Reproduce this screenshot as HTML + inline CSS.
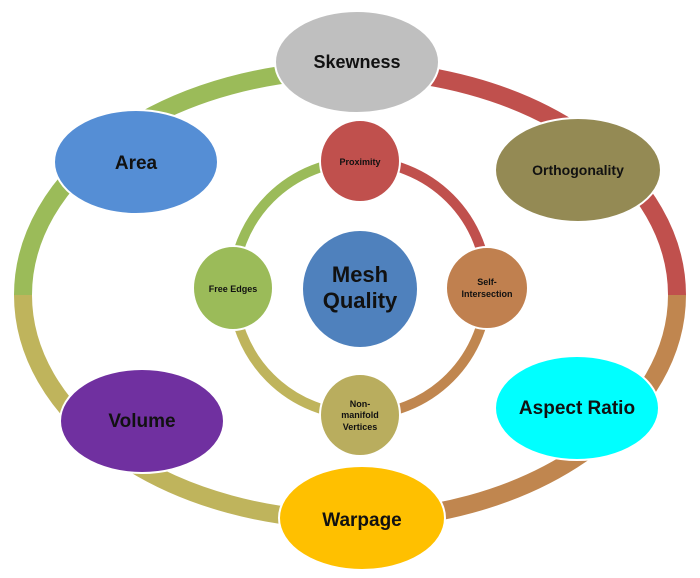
<!DOCTYPE html>
<html><head><meta charset="utf-8"><style>
html,body{margin:0;padding:0;background:#fff;}
svg{display:block;}
text{font-family:"Liberation Sans",sans-serif;font-weight:bold;fill:#111;text-anchor:middle;}
</style></head><body>
<svg width="700" height="578" viewBox="0 0 700 578" xmlns="http://www.w3.org/2000/svg">
<g fill="none" stroke-width="18">
<path d="M350 70 A327 225 0 0 0 23 295" stroke="#9bbb59"/>
<path d="M23 295 A327 225 0 0 0 350 520" stroke="#bfb45c"/>
<path d="M350 520 A327 225 0 0 0 677 295" stroke="#c0864f"/>
<path d="M677 295 A327 225 0 0 0 350 70" stroke="#c0504d"/>
</g>
<g fill="none" stroke-width="10">
<path d="M360 161 A127 127 0 0 0 233 288" stroke="#9bbb59"/>
<path d="M233 288 A127 127 0 0 0 360 415" stroke="#bfb45c"/>
<path d="M360 415 A127 127 0 0 0 487 288" stroke="#c0864f"/>
<path d="M487 288 A127 127 0 0 0 360 161" stroke="#c0504d"/>
</g>
<g stroke="#fff" stroke-width="2">
<ellipse cx="357" cy="62" rx="82" ry="51" fill="#bfbfbf"/>
<ellipse cx="136" cy="162" rx="82" ry="52" fill="#558ed5"/>
<ellipse cx="578" cy="170" rx="83" ry="52" fill="#948a54"/>
<ellipse cx="360" cy="161" rx="40" ry="41" fill="#c0504d"/>
<ellipse cx="233" cy="288" rx="40" ry="42" fill="#9bbb59"/>
<ellipse cx="360" cy="289" rx="58" ry="59" fill="#4f81bd"/>
<ellipse cx="487" cy="288" rx="41" ry="41" fill="#c0804f"/>
<ellipse cx="360" cy="415" rx="40" ry="41" fill="#b9ad5e"/>
<ellipse cx="142" cy="421" rx="82" ry="52" fill="#7030a0"/>
<ellipse cx="577" cy="408" rx="82" ry="52" fill="#00ffff"/>
<ellipse cx="362" cy="518" rx="83" ry="52" fill="#ffc000"/>
</g>
<text x="357" y="68" font-size="18">Skewness</text>
<text x="136" y="169" font-size="19">Area</text>
<text x="578" y="175" font-size="14">Orthogonality</text>
<text x="360" y="165" font-size="9">Proximity</text>
<text x="233" y="292" font-size="9">Free Edges</text>
<text x="360" y="282" font-size="22">Mesh</text>
<text x="360" y="308" font-size="22">Quality</text>
<text x="487" y="285" font-size="9">Self-</text>
<text x="487" y="297" font-size="9">Intersection</text>
<text x="360" y="407" font-size="9">Non-</text>
<text x="360" y="418" font-size="9">manifold</text>
<text x="360" y="430" font-size="9">Vertices</text>
<text x="142" y="427" font-size="19">Volume</text>
<text x="577" y="414" font-size="19">Aspect Ratio</text>
<text x="362" y="526" font-size="19">Warpage</text>
</svg>
</body></html>
